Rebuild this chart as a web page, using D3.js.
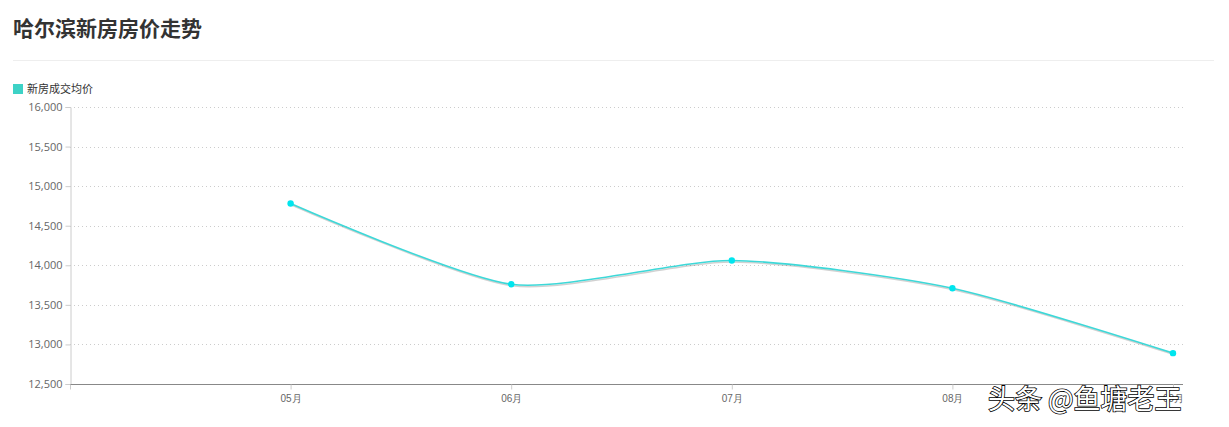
<!DOCTYPE html>
<html><head><meta charset="utf-8">
<script src="https://cdn.jsdelivr.net/npm/d3@7"></script>
<style>
body{margin:0;background:#fff;font-family:"Noto Sans CJK SC","Noto Sans",sans-serif}
</style></head><body>
<svg id="chart" width="1229" height="427"></svg>
<script>
// Data
const months = ['', '05月', '06月', '07月', '08月', '09月']
const prices = [null, 14780, 13760, 14060, 13710, 12890]
const yTicks = [12500, 13000, 13500, 14000, 14500, 15000, 15500, 16000]

const svg = d3.select('#chart')
const margins = {top: 107, right: 56, bottom: 43, left: 70}
const width = 1229, height = 427

svg.append('text').attr('x', 13).attr('y', 36)
    .attr('font-size', 21).attr('font-weight', 'bold').attr('fill', '#333')
    .text('哈尔滨新房房价走势')
svg.append('line').attr('x1', 13).attr('x2', 1214).attr('y1', 60.5).attr('y2', 60.5)
    .attr('stroke', '#eee')

// Legend
svg.append('rect').attr('x', 13).attr('y', 84).attr('width', 10).attr('height', 10).attr('fill', '#3dd2c6')
svg.append('text').attr('x', 27).attr('y', 93).attr('font-size', 11).attr('fill', '#333').text('新房成交均价')

const x = d3.scalePoint().domain(months).range([margins.left, width - margins.right])
const y = d3.scaleLinear().domain([12500, 16000]).range([height - margins.bottom, margins.top])

// grid
svg.append('g').selectAll('line').data(yTicks.slice(1)).join('line')
    .attr('x1', margins.left).attr('x2', 1183)
    .attr('y1', d => Math.round(y(d)) + 0.5).attr('y2', d => Math.round(y(d)) + 0.5)
    .attr('stroke', '#ccc').attr('stroke-dasharray', '1,3')

const yAxis = svg.append('g').attr('transform', `translate(${margins.left + 0.5},0)`)
    .call(d3.axisLeft(y).tickValues(yTicks).tickFormat(d3.format(',')).tickSize(5))
yAxis.select('.domain').attr('stroke', '#ccc')
yAxis.selectAll('.tick line').attr('stroke', '#ccc')
yAxis.selectAll('text').attr('fill', '#666').attr('font-size', 11).attr('font-family', '"Open Sans",sans-serif')

const xAxis = svg.append('g').attr('transform', `translate(0,${height - margins.bottom + 0.5})`)
    .call(d3.axisBottom(x).tickSize(5))
xAxis.select('.domain').attr('stroke', '#888').attr('d', `M${margins.left},0H1183`)
xAxis.selectAll('.tick line').attr('stroke', '#ccc')
xAxis.selectAll('text').attr('fill', '#666').attr('font-size', 10).attr('dy', '0.9em')

const pts = months.map((m, i) => ({m, v: prices[i]})).filter(d => d.v !== null)
const line = d3.line().x(d => x(d.m)).y(d => y(d.v)).curve(d3.curveCardinal.tension(0.3))

svg.append('path').datum(pts).attr('d', line).attr('fill', 'none')
    .attr('stroke', 'rgba(0,0,0,0.18)').attr('stroke-width', 1.5).attr('transform', 'translate(1,1.5)')
svg.append('path').datum(pts).attr('d', line).attr('fill', 'none')
    .attr('stroke', '#3dd8d8').attr('stroke-width', 1.6)
svg.append('g').selectAll('circle').data(pts).join('circle')
    .attr('cx', d => x(d.m)).attr('cy', d => y(d.v)).attr('r', 3.2).attr('fill', '#00e5ee')

// watermark
svg.append('text').attr('x', 988).attr('y', 409).attr('font-size', 27).attr('fill', '#fff')
    .attr('stroke', '#000').attr('stroke-width', 1.6).attr('paint-order', 'stroke')
    .text('头条 @鱼塘老王')
</script></body></html>
